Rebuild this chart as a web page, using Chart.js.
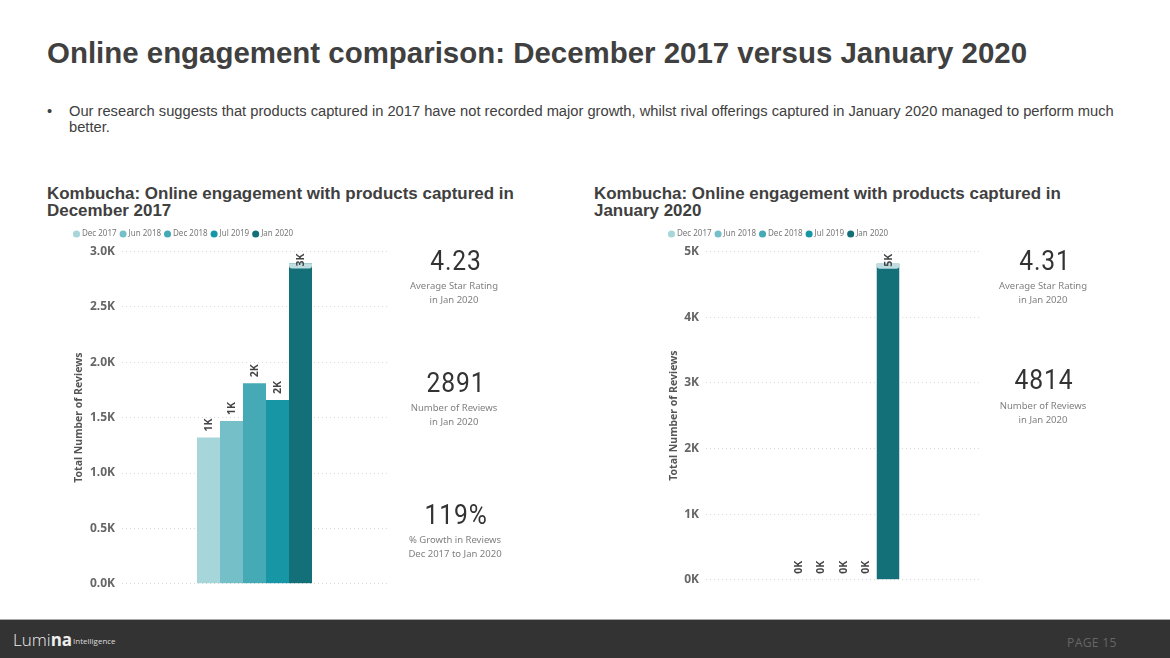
<!DOCTYPE html>
<html>
<head>
<meta charset="utf-8">
<script src="https://cdn.jsdelivr.net/npm/chart.js@4/dist/chart.umd.js"></script>
<style>
  html, body { margin: 0; padding: 0; background: #fff; }
  #page { position: relative; width: 1170px; height: 658px; overflow: hidden; font-family: "Liberation Sans", Arial, sans-serif; }
  #page div, #page canvas { position: absolute; }
  .title { left: 47px; top: 36px; font-size: 29.45px; font-weight: bold; color: #404040; white-space: nowrap; }
  .bullet { left: 47px; top: 103px; font-size: 14.7px; line-height: 16px; color: #404040; }
  .head { font-size: 16.95px; line-height: 17px; font-weight: bold; color: #404040; white-space: nowrap; }
  .num { width: 160px; text-align: center; font-family: Roboto, sans-serif; font-weight: 400; font-size: 28px; letter-spacing: 1px; color: #333; transform: scaleX(.88); }
  .cap { width: 160px; text-align: center; font-family: "Noto Sans", sans-serif; font-size: 9.5px; line-height: 13.5px; color: #808080; }
  #footer { left: 0; top: 619px; width: 1170px; height: 39px; background: #333; border-top: 1px solid #aaa; box-sizing: border-box; }
</style>
</head>
<body>
<div id="page">
  <div class="title">Online engagement comparison: December 2017 versus January 2020</div>
  <div class="bullet" style="width:20px">•</div>
  <div class="bullet" style="left:69px;width:1060px">Our research suggests that products captured in 2017 have not recorded major growth, whilst rival offerings captured in January 2020 managed to perform much better.</div>

  <div class="head" style="left:47px;top:185px">Kombucha: Online engagement with products captured in<br>December 2017</div>
  <div class="head" style="left:594px;top:185px">Kombucha: Online engagement with products captured in<br>January 2020</div>

  <canvas id="chartLeft" style="left:70px;top:225px" width="317" height="373.5"></canvas>
  <canvas id="chartRight" style="left:665px;top:225px" width="315" height="369"></canvas>

  <div class="num" style="left:376px;top:244px">4.23</div>
  <div class="cap" style="left:374px;top:279px">Average Star Rating<br>in Jan 2020</div>
  <div class="num" style="left:376px;top:366px">2891</div>
  <div class="cap" style="left:374px;top:401px">Number of Reviews<br>in Jan 2020</div>
  <div class="num" style="left:376px;top:498px">119%</div>
  <div class="cap" style="left:375px;top:533px">% Growth in Reviews<br>Dec 2017 to Jan 2020</div>

  <div class="num" style="left:965px;top:244px">4.31</div>
  <div class="cap" style="left:963px;top:279px">Average Star Rating<br>in Jan 2020</div>
  <div class="num" style="left:964px;top:363px">4814</div>
  <div class="cap" style="left:963px;top:399px">Number of Reviews<br>in Jan 2020</div>

  <div id="footer"></div>
  <div style="left:13px;top:628px;font-family:'Open Sans',sans-serif;font-size:17px;color:#eee;font-weight:300"><span>Lumi</span><b style="font-weight:700">na</b></div>
  <div style="left:73px;top:635px;font-family:'Open Sans',sans-serif;font-size:8px;color:#ddd">Intelligence</div>
  <div style="left:1067px;top:634px;font-family:'Open Sans',sans-serif;font-size:12.2px;color:#666;letter-spacing:.3px">PAGE 15</div>
</div>

<script>
const periods = ['Dec 2017', 'Jun 2018', 'Dec 2018', 'Jul 2019', 'Jan 2020'];
const barColors = ['#A6D5DA', '#75BFC9', '#45A9B6', '#1797A6', '#137079'];
const reviews2017 = [1320, 1470, 1810, 1660, 2891];
const reviews2020 = [0, 0, 0, 0, 4814];
const ticksLeft = [0, 500, 1000, 1500, 2000, 2500, 3000];
const ticksRight = [0, 1000, 2000, 3000, 4000, 5000];
const tickFontFamily = '"Noto Sans", sans-serif';

// rotated data labels, plus the pale cap Power BI leaves on a bar that hits the top
const barLabels = {
    id: 'barLabels',
    afterDatasetsDraw(chart) {
        const ctx = chart.ctx;
        const top = chart.chartArea.top;
        chart.data.datasets.forEach((ds, i) => {
            const bar = chart.getDatasetMeta(i).data[0];
            const clamped = bar.y - top < 20;
            if (clamped) {
                ctx.fillStyle = '#BFDDE0';
                ctx.beginPath();
                ctx.roundRect(bar.x - bar.width / 2, bar.y, bar.width, 5, [0, 0, 3, 3]);
                ctx.fill();
            }
            ctx.save();
            ctx.translate(bar.x + 1, clamped ? bar.y + 3 : bar.y - 6);
            ctx.rotate(-Math.PI / 2);
            ctx.font = 'bold 10.5px ' + tickFontFamily;
            ctx.fillStyle = '#444';
            ctx.textAlign = 'left';
            ctx.textBaseline = 'middle';
            ctx.fillText(Math.round(ds.data[0] / 1000) + 'K', 0, 0);
            ctx.restore();
        });
    }
};

// the gap between legend and plot is wider than Chart.js gives by itself
const legendGap = {
    id: 'legendGap',
    beforeLayout(chart, args, opts) {
        const legend = chart.legend;
        if (legend.gapDone) return;
        const fit = legend.fit.bind(legend);
        legend.fit = () => { fit(); legend.height = opts.height; };
        legend.gapDone = true;
    }
};

function drawChart(id, values, yMax, yTicks, formatTick, axisWidth, groupShare) {
    return new Chart(document.getElementById(id), {
        type: 'bar',
        data: {
            labels: ['Reviews'],
            datasets: periods.map((p, i) => ({
                label: p,
                data: [values[i]],
                backgroundColor: barColors[i],
                barPercentage: 1,
                categoryPercentage: groupShare
            }))
        },
        options: {
            responsive: false,
            animation: false,
            layout: { padding: 0 },
            plugins: {
                tooltip: { enabled: false },
                legendGap: { height: 26.5 },
                legend: {
                    position: 'top',
                    align: 'start',
                    labels: {
                        usePointStyle: true,
                        pointStyle: 'circle',
                        boxWidth: 3,
                        boxHeight: 5,
                        padding: 5,
                        color: '#777',
                        font: { size: 8, family: tickFontFamily }
                    }
                }
            },
            scales: {
                x: { display: false },
                y: {
                    min: 0,
                    max: yMax,
                    afterFit: s => { s.width = axisWidth; },
                    afterBuildTicks: s => { s.ticks = yTicks.map(v => ({ value: v })); },
                    border: { display: false, dash: [1, 3] },
                    grid: { color: '#d8d8d8', lineWidth: 1, drawTicks: false },
                    title: {
                        display: true,
                        text: 'Total Number of Reviews',
                        color: '#555',
                        padding: { top: 3, bottom: 0 },
                        font: { size: 10.5, weight: 'bold', family: tickFontFamily }
                    },
                    ticks: {
                        padding: 7,
                        color: '#666',
                        font: { size: 12, weight: 'bold', family: tickFontFamily },
                        callback: formatTick
                    }
                }
            }
        },
        plugins: [barLabels, legendGap]
    });
}

drawChart('chartLeft', reviews2017, 3000, ticksLeft, v => (v / 1000).toFixed(1) + 'K', 52, 115 / 265);
drawChart('chartRight', reviews2020, 5000, ticksRight, v => (v / 1000) + 'K', 41, 112.5 / 274);
</script>
</body>
</html>
